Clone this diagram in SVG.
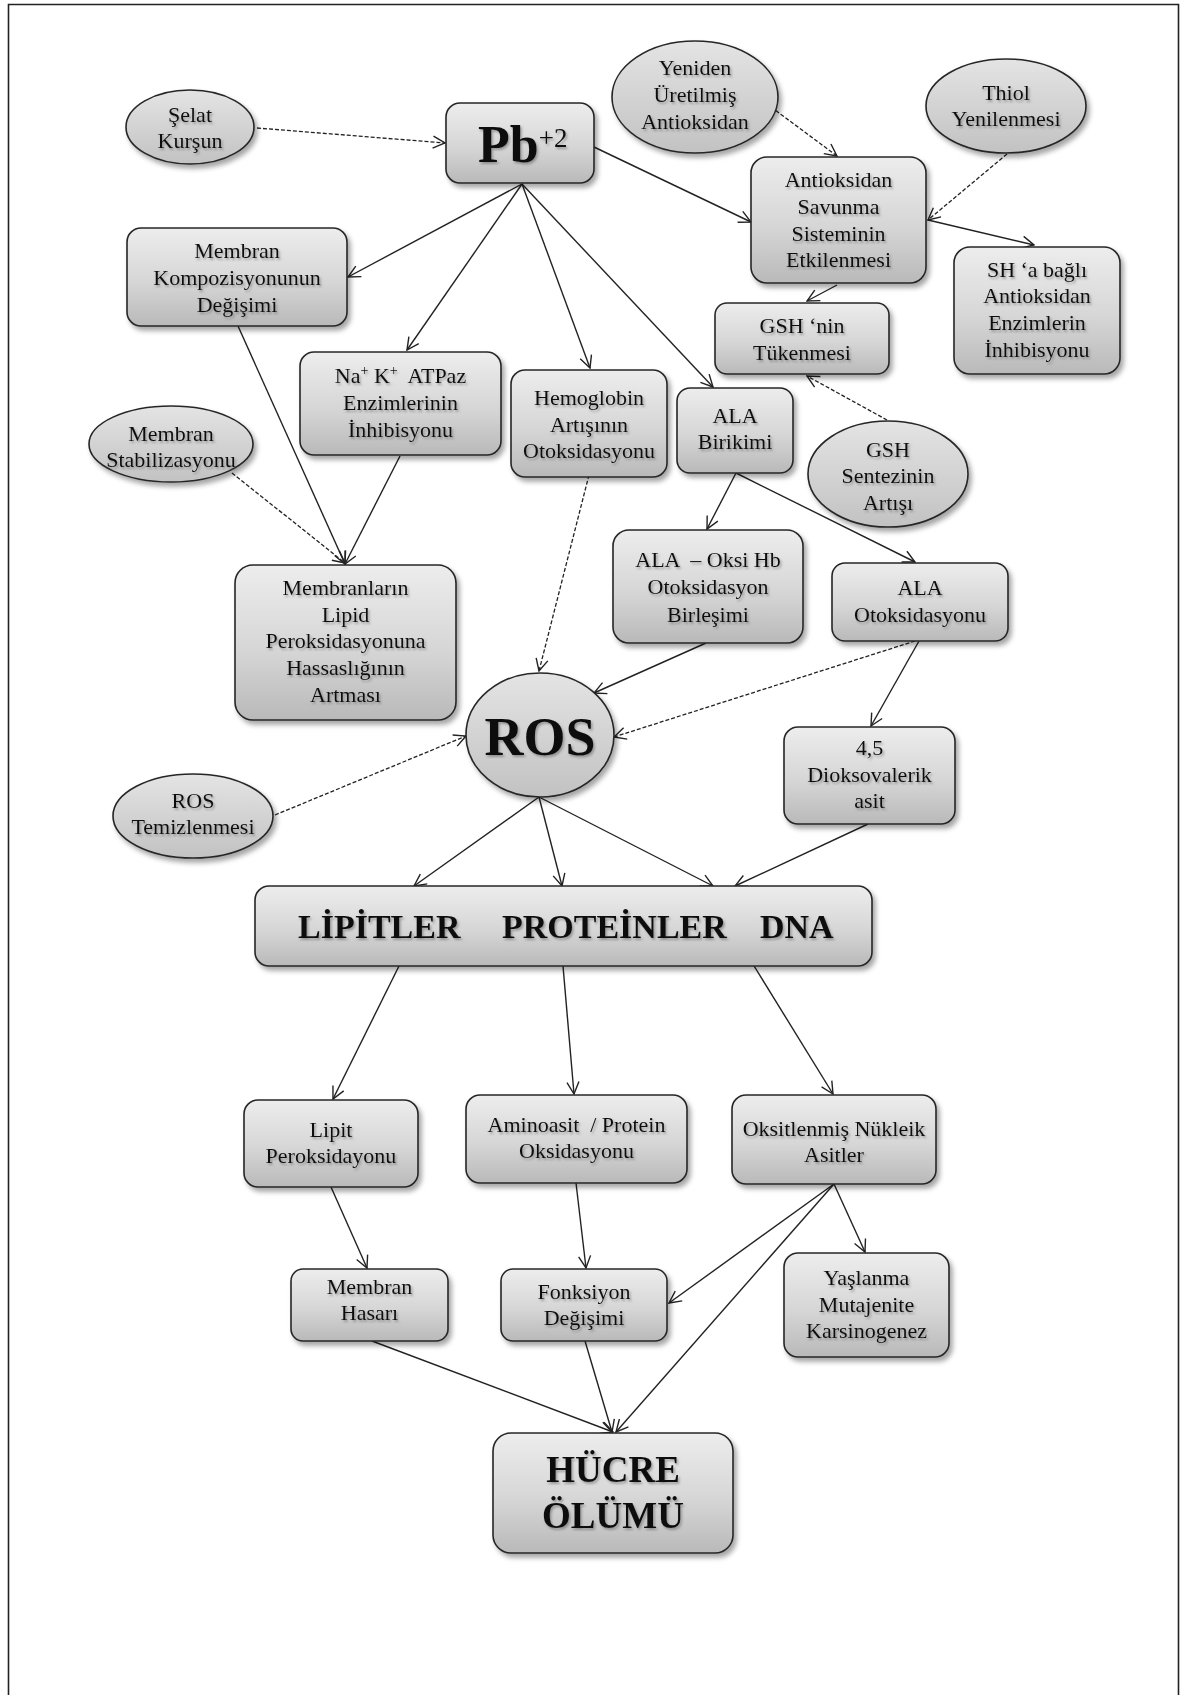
<svg xmlns="http://www.w3.org/2000/svg" width="1184" height="1695" viewBox="0 0 1184 1695">
<style>
.bx{fill:url(#g);stroke:#262626;stroke-width:1.6;filter:url(#sh)}
.el{fill:url(#ge);stroke:#262626;stroke-width:1.6;filter:url(#sh)}
.t{font-family:"Liberation Serif","Times New Roman",serif;font-size:22px;text-anchor:middle;fill:#111;filter:url(#ts)}
.b{font-weight:bold}
.c{fill:none;stroke:#222;stroke-width:1.4;marker-end:url(#ar)}
.d{fill:none;stroke:#222;stroke-width:1.3;stroke-dasharray:4 2;marker-end:url(#ar)}
</style>
<defs>
<linearGradient id="g" x1="0" y1="0" x2="0" y2="1"><stop offset="0" stop-color="#ededed"/><stop offset="0.55" stop-color="#d6d6d6"/><stop offset="1" stop-color="#b9b9b9"/></linearGradient>
<linearGradient id="ge" x1="0" y1="0" x2="0" y2="1"><stop offset="0" stop-color="#e4e4e4"/><stop offset="1" stop-color="#c2c2c2"/></linearGradient>
<filter id="sh" x="-20%" y="-20%" width="150%" height="160%"><feDropShadow dx="3" dy="4" stdDeviation="2.5" flood-color="#000" flood-opacity="0.35"/></filter>
<filter id="ts" x="-10%" y="-30%" width="130%" height="170%"><feDropShadow dx="1.5" dy="2" stdDeviation="1.3" flood-color="#555" flood-opacity="0.5"/></filter>
<marker id="ar" viewBox="0 0 14 14" refX="13" refY="7" markerWidth="14" markerHeight="14" markerUnits="userSpaceOnUse" orient="auto"><path d="M1,1 L13,7 L1,13" fill="none" stroke="#222" stroke-width="1.4"/></marker>
</defs>
<rect x="0" y="0" width="1184" height="1695" fill="#fff"/>
<path d="M8.5,1700 V4.5 H1178.5 V1700" fill="none" stroke="#222" stroke-width="1.6"/>

<g id="connectors">
<line class="c" x1="522" y1="184" x2="348" y2="277"/>
<line class="c" x1="522" y1="184" x2="407" y2="350"/>
<line class="c" x1="522" y1="184" x2="590" y2="368"/>
<line class="c" x1="522" y1="184" x2="713" y2="387"/>
<line class="c" x1="594" y1="147" x2="751" y2="222"/>
<line class="c" x1="928" y1="220" x2="1034" y2="245"/>
<line class="c" x1="837" y1="285" x2="807" y2="301"/>
<line class="c" x1="238" y1="326" x2="345" y2="564"/>
<line class="c" x1="400" y1="456" x2="345" y2="564"/>
<line class="c" x1="736" y1="473" x2="707" y2="529"/>
<line class="c" x1="736" y1="473" x2="915" y2="562"/>
<line class="c" x1="706" y1="643" x2="594" y2="693"/>
<line class="c" x1="919" y1="641" x2="871" y2="726"/>
<line class="c" x1="539" y1="797" x2="414" y2="886"/>
<line class="c" x1="539" y1="797" x2="562" y2="886"/>
<line class="c" x1="539" y1="797" x2="713" y2="886"/>
<line class="c" x1="868" y1="824" x2="735" y2="886"/>
<line class="c" x1="399" y1="966" x2="333" y2="1099"/>
<line class="c" x1="563" y1="966" x2="574" y2="1094"/>
<line class="c" x1="751" y1="961" x2="833" y2="1094"/>
<line class="c" x1="331" y1="1187" x2="367" y2="1268"/>
<line class="c" x1="576" y1="1183" x2="586" y2="1268"/>
<line class="c" x1="834" y1="1184" x2="865" y2="1252"/>
<line class="c" x1="834" y1="1184" x2="669" y2="1303"/>
<line class="c" x1="834" y1="1184" x2="616" y2="1432"/>
<line class="c" x1="372" y1="1341" x2="613" y2="1432"/>
<line class="c" x1="585" y1="1341" x2="612" y2="1432"/>
<line class="d" x1="257" y1="128" x2="445" y2="143"/>
<line class="d" x1="771" y1="107" x2="837" y2="156"/>
<line class="d" x1="1007" y1="154" x2="928" y2="220"/>
<line class="d" x1="887" y1="420" x2="807" y2="376"/>
<line class="d" x1="232" y1="473" x2="345" y2="563"/>
<line class="d" x1="589" y1="475" x2="539" y2="671"/>
<line class="d" x1="915" y1="641" x2="614" y2="737"/>
<line class="d" x1="275" y1="815" x2="466" y2="736"/>
</g>

<g id="selat"><ellipse class="el" cx="190" cy="127" rx="64" ry="37"/>
<text class="t"><tspan x="190" y="122">Şelat</tspan><tspan x="190" y="148">Kurşun</tspan></text></g>

<g id="pb"><rect class="bx" x="446" y="103" width="148" height="80" rx="14"/>
<text class="t" x="478" y="162" style="text-anchor:start"><tspan class="b" font-size="52">Pb</tspan><tspan font-size="27" dy="-15">+2</tspan></text></g>

<g id="yeniden"><ellipse class="el" cx="695" cy="97" rx="83" ry="56"/>
<text class="t"><tspan x="695" y="75">Yeniden</tspan><tspan x="695" y="102">Üretilmiş</tspan><tspan x="695" y="129">Antioksidan</tspan></text></g>

<g id="thiol"><ellipse class="el" cx="1006" cy="106" rx="80" ry="47"/>
<text class="t"><tspan x="1006" y="100">Thiol</tspan><tspan x="1006" y="126">Yenilenmesi</tspan></text></g>

<g id="antioksidan"><rect class="bx" x="751" y="157" width="175" height="126" rx="16"/>
<text class="t"><tspan x="838.5" y="187">Antioksidan</tspan><tspan x="838.5" y="214">Savunma</tspan><tspan x="838.5" y="241">Sisteminin</tspan><tspan x="838.5" y="267">Etkilenmesi</tspan></text></g>

<g id="sh-node"><rect class="bx" x="954" y="247" width="166" height="127" rx="16"/>
<text class="t"><tspan x="1037" y="277">SH ‘a bağlı</tspan><tspan x="1037" y="303">Antioksidan</tspan><tspan x="1037" y="330">Enzimlerin</tspan><tspan x="1037" y="357">İnhibisyonu</tspan></text></g>

<g id="gsh-nin"><rect class="bx" x="715" y="303" width="174" height="71" rx="12"/>
<text class="t"><tspan x="802" y="333">GSH ‘nin</tspan><tspan x="802" y="360">Tükenmesi</tspan></text></g>

<g id="membran-komp"><rect class="bx" x="127" y="228" width="220" height="98" rx="14"/>
<text class="t"><tspan x="237" y="258">Membran</tspan><tspan x="237" y="285">Kompozisyonunun</tspan><tspan x="237" y="312">Değişimi</tspan></text></g>

<g id="nak"><rect class="bx" x="300" y="352" width="201" height="103" rx="14"/>
<text class="t" xml:space="preserve"><tspan x="400.5" y="383">Na<tspan font-size="14" dy="-8">+</tspan><tspan dy="8"> K</tspan><tspan font-size="14" dy="-8">+</tspan><tspan dy="8">  ATPaz</tspan></tspan><tspan x="400.5" y="410">Enzimlerinin</tspan><tspan x="400.5" y="437">İnhibisyonu</tspan></text></g>

<g id="hemoglobin"><rect class="bx" x="511" y="370" width="156" height="107" rx="14"/>
<text class="t"><tspan x="589" y="405">Hemoglobin</tspan><tspan x="589" y="432">Artışının</tspan><tspan x="589" y="458">Otoksidasyonu</tspan></text></g>

<g id="ala-birikimi"><rect class="bx" x="677" y="388" width="116" height="85" rx="13"/>
<text class="t"><tspan x="735" y="423">ALA</tspan><tspan x="735" y="449">Birikimi</tspan></text></g>

<g id="gsh-sentez"><ellipse class="el" cx="888" cy="474" rx="80" ry="53"/>
<text class="t"><tspan x="888" y="457">GSH</tspan><tspan x="888" y="483">Sentezinin</tspan><tspan x="888" y="510">Artışı</tspan></text></g>

<g id="membran-stab"><ellipse class="el" cx="171" cy="444" rx="82" ry="38"/>
<text class="t"><tspan x="171" y="441">Membran</tspan><tspan x="171" y="467">Stabilizasyonu</tspan></text></g>

<g id="membranlarin"><rect class="bx" x="235" y="565" width="221" height="155" rx="18"/>
<text class="t"><tspan x="345.5" y="595">Membranların</tspan><tspan x="345.5" y="622">Lipid</tspan><tspan x="345.5" y="648">Peroksidasyonuna</tspan><tspan x="345.5" y="675">Hassaslığının</tspan><tspan x="345.5" y="702">Artması</tspan></text></g>

<g id="ala-oksi"><rect class="bx" x="613" y="530" width="190" height="113" rx="16"/>
<text class="t" xml:space="preserve"><tspan x="708" y="567">ALA  – Oksi Hb</tspan><tspan x="708" y="594">Otoksidasyon</tspan><tspan x="708" y="622">Birleşimi</tspan></text></g>

<g id="ala-otoks"><rect class="bx" x="832" y="563" width="176" height="78" rx="13"/>
<text class="t"><tspan x="920" y="595">ALA</tspan><tspan x="920" y="622">Otoksidasyonu</tspan></text></g>

<g id="ros"><ellipse class="el" cx="540" cy="735" rx="74" ry="62"/>
<text class="t b" x="540" y="755" style="font-size:54px">ROS</text></g>

<g id="ros-temiz"><ellipse class="el" cx="193" cy="816" rx="80" ry="42"/>
<text class="t"><tspan x="193" y="808">ROS</tspan><tspan x="193" y="834">Temizlenmesi</tspan></text></g>

<g id="dioksovalerik"><rect class="bx" x="784" y="727" width="171" height="97" rx="14"/>
<text class="t"><tspan x="869.5" y="755">4,5</tspan><tspan x="869.5" y="782">Dioksovalerik</tspan><tspan x="869.5" y="808">asit</tspan></text></g>

<g id="lipitler"><rect class="bx" x="255" y="886" width="617" height="80" rx="14"/>
<text class="t b" y="938" style="font-size:34px;text-anchor:start"><tspan x="298">LİPİTLER</tspan><tspan x="502">PROTEİNLER</tspan><tspan x="760">DNA</tspan></text></g>

<g id="lipit"><rect class="bx" x="244" y="1100" width="174" height="87" rx="14"/>
<text class="t"><tspan x="331" y="1137">Lipit</tspan><tspan x="331" y="1163">Peroksidayonu</tspan></text></g>

<g id="aminoasit"><rect class="bx" x="466" y="1095" width="221" height="88" rx="14"/>
<text class="t" xml:space="preserve"><tspan x="576.5" y="1132">Aminoasit  / Protein</tspan><tspan x="576.5" y="1158">Oksidasyonu</tspan></text></g>

<g id="oksitlenmis"><rect class="bx" x="732" y="1095" width="204" height="89" rx="14"/>
<text class="t"><tspan x="834" y="1136">Oksitlenmiş Nükleik</tspan><tspan x="834" y="1162">Asitler</tspan></text></g>

<g id="membran-hasari"><rect class="bx" x="291" y="1269" width="157" height="72" rx="12"/>
<text class="t"><tspan x="369.5" y="1294">Membran</tspan><tspan x="369.5" y="1320">Hasarı</tspan></text></g>

<g id="fonksiyon"><rect class="bx" x="501" y="1269" width="166" height="72" rx="12"/>
<text class="t"><tspan x="584" y="1299">Fonksiyon</tspan><tspan x="584" y="1325">Değişimi</tspan></text></g>

<g id="yaslanma"><rect class="bx" x="784" y="1253" width="165" height="104" rx="14"/>
<text class="t"><tspan x="866.5" y="1285">Yaşlanma</tspan><tspan x="866.5" y="1312">Mutajenite</tspan><tspan x="866.5" y="1338">Karsinogenez</tspan></text></g>

<g id="hucre"><rect class="bx" x="493" y="1433" width="240" height="120" rx="18"/>
<text class="t b" style="font-size:37px"><tspan x="613" y="1482">HÜCRE</tspan><tspan x="613" y="1528">ÖLÜMÜ</tspan></text></g>
</svg>
